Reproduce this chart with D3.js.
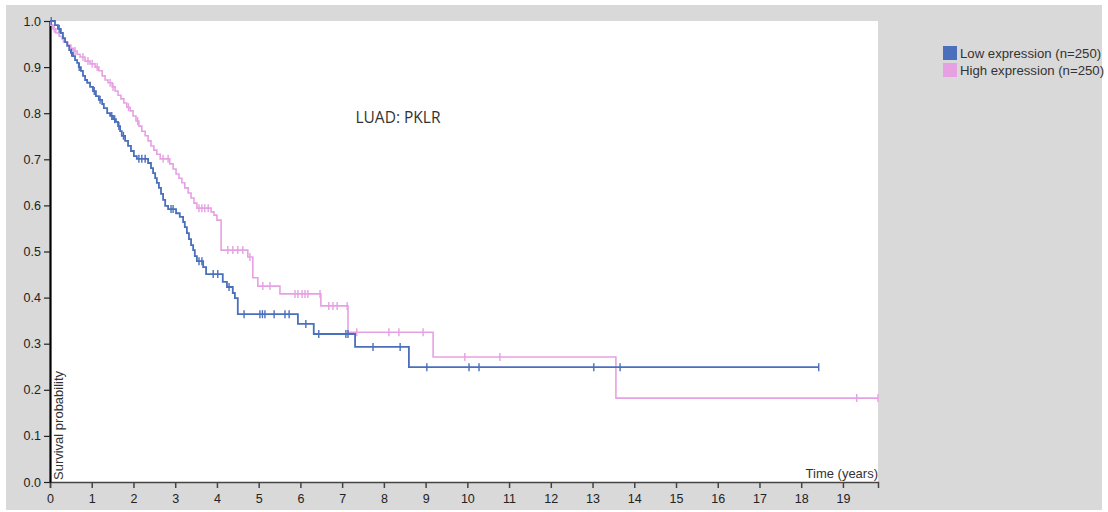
<!DOCTYPE html>
<html><head><meta charset="utf-8">
<script src="https://cdn.jsdelivr.net/npm/d3@7"></script>
<style>body{margin:0;background:#fff}svg{display:block}</style>
</head><body>
<svg id="c" width="1108" height="512"></svg>
<script>
const title = "LUAD: PKLR";
const seriesNames = ["Low expression (n=250)", "High expression (n=250)"];
const seriesColors = ["#4a6fbd", "#e6a1e3"];
const yTicks = [0,0.1,0.2,0.3,0.4,0.5,0.6,0.7,0.8,0.9,1.0];
const xTicks = [0,1,2,3,4,5,6,7,8,9,10,11,12,13,14,15,16,17,18,19];
const xMax = 19.84;

// Kaplan-Meier steps [time (years), survival after step]
const lowSteps = [[0,1.0],[0.12,0.991],[0.19,0.983],[0.26,0.974],[0.31,0.963],[0.36,0.954],[0.41,0.946],[0.46,0.937],[0.50,0.931],[0.55,0.924],[0.60,0.915],[0.65,0.909],[0.69,0.900],[0.74,0.892],[0.79,0.881],[0.84,0.872],[0.89,0.866],[0.96,0.857],[1.03,0.848],[1.10,0.837],[1.17,0.829],[1.25,0.820],[1.29,0.811],[1.37,0.800],[1.44,0.794],[1.51,0.787],[1.58,0.781],[1.63,0.772],[1.68,0.761],[1.72,0.751],[1.80,0.740],[1.87,0.729],[1.94,0.718],[2.01,0.707],[2.08,0.701],[2.35,0.692],[2.42,0.681],[2.47,0.670],[2.52,0.659],[2.56,0.649],[2.61,0.638],[2.66,0.625],[2.71,0.612],[2.76,0.599],[2.83,0.592],[3.02,0.583],[3.11,0.575],[3.19,0.564],[3.23,0.553],[3.28,0.540],[3.33,0.527],[3.38,0.514],[3.43,0.503],[3.47,0.490],[3.52,0.479],[3.67,0.466],[3.74,0.451],[4.14,0.434],[4.24,0.423],[4.38,0.410],[4.43,0.399],[4.50,0.364],[5.94,0.343],[6.32,0.321],[7.31,0.293],[8.60,0.249]];
const lowEnd = 18.42;
const lowCensor = [0.03,0.22,0.52,0.70,1.06,1.20,1.48,1.55,1.65,1.76,2.13,2.20,2.28,2.90,2.95,3.57,3.64,3.91,4.02,4.29,4.65,5.03,5.09,5.15,5.37,5.63,5.73,6.13,6.44,7.09,7.14,7.74,8.39,9.03,10.04,10.28,13.03,13.66,18.42];

const highSteps = [[0,1.0],[0.02,0.991],[0.07,0.983],[0.14,0.974],[0.22,0.967],[0.29,0.961],[0.36,0.954],[0.43,0.948],[0.50,0.941],[0.57,0.935],[0.65,0.928],[0.72,0.922],[0.84,0.913],[0.96,0.907],[1.08,0.900],[1.17,0.892],[1.25,0.881],[1.32,0.872],[1.39,0.866],[1.49,0.857],[1.56,0.848],[1.63,0.839],[1.70,0.831],[1.77,0.822],[1.84,0.813],[1.92,0.805],[1.99,0.794],[2.06,0.783],[2.13,0.772],[2.20,0.761],[2.28,0.751],[2.35,0.740],[2.42,0.729],[2.49,0.720],[2.56,0.711],[2.64,0.701],[2.87,0.690],[2.95,0.679],[3.02,0.668],[3.09,0.659],[3.16,0.649],[3.23,0.638],[3.31,0.627],[3.38,0.616],[3.45,0.605],[3.52,0.594],[3.86,0.586],[3.93,0.579],[4.00,0.568],[4.10,0.503],[4.74,0.488],[4.86,0.443],[4.98,0.425],[5.51,0.408],[6.49,0.382],[7.14,0.325],[9.18,0.271],[13.56,0.182]];
const highEnd = 19.84;
const highCensor = [0.10,0.32,0.60,0.79,0.91,1.01,1.13,1.44,1.51,1.88,2.10,2.71,2.83,3.57,3.64,3.71,3.79,4.26,4.38,4.50,4.62,4.79,5.10,5.27,5.87,5.94,6.04,6.11,6.18,6.47,6.68,6.78,6.88,7.12,7.35,8.12,8.36,8.94,9.94,10.78,19.33,19.84];

const svg = d3.select("#c");
const font = "'Liberation Sans', Arial, sans-serif";
svg.append("rect").attr("x",0).attr("y",0).attr("width",1108).attr("height",512).attr("fill","#fff");
svg.append("rect").attr("x",6).attr("y",5).attr("width",1096).attr("height",505).attr("fill","#d9d9d9");

const L=50, R=878, T=21, B=482;
const x = d3.scaleLinear().domain([0,xMax]).range([L,R]);
const y = d3.scaleLinear().domain([0,1]).range([B,T]);
svg.append("rect").attr("x",L).attr("y",T).attr("width",R-L).attr("height",B-T).attr("fill","#fff");

// X axis
const gx = svg.append("g").attr("transform",`translate(0,${B})`)
  .call(d3.axisBottom(x).tickValues(xTicks).tickFormat(d3.format("d")).tickSize(6).tickSizeOuter(6));
gx.select(".domain").attr("stroke","#444").attr("stroke-width",1.5);
gx.selectAll(".tick line").attr("stroke","#444").attr("stroke-width",1.5);
gx.selectAll(".tick text").attr("font-family",font).attr("font-size",12.5).attr("fill","#222").attr("dy","0.95em");

// Y axis
const gy = svg.append("g").attr("transform",`translate(${L},0)`)
  .call(d3.axisLeft(y).tickValues(yTicks).tickFormat(d3.format(".1f")).tickSize(6).tickSizeOuter(0));
gy.select(".domain").attr("stroke","#000").attr("stroke-width",2.2);
gy.selectAll(".tick line").attr("stroke","#222").attr("stroke-width",1.2);
gy.selectAll(".tick text").attr("font-family",font).attr("font-size",12.5).attr("fill","#222").attr("x",-9);

svg.append("text").attr("x",R).attr("y",B-4).attr("text-anchor","end")
  .attr("font-family",font).attr("font-size",13).attr("fill","#333").text("Time (years)");
svg.append("text").attr("transform",`translate(${L+13},${B-2}) rotate(-90)`).attr("text-anchor","start")
  .attr("font-family",font).attr("font-size",13).attr("fill","#333").text("Survival probability");

svg.append("text").attr("x",398).attr("y",123).attr("text-anchor","middle")
  .attr("font-family","'Open Sans', sans-serif").attr("font-size",15.5).attr("fill","#333").text(title);

const line = d3.line().x(d=>x(d[0])).y(d=>y(d[1])).curve(d3.curveStepAfter);
function survAt(steps,t){ let s=steps[0][1]; for(const p of steps){ if(p[0]<=t) s=p[1]; } return s; }

const series = [
  {steps: lowSteps, end: lowEnd, censor: lowCensor, color: seriesColors[0], w: 1.8},
  {steps: highSteps, end: highEnd, censor: highCensor, color: seriesColors[1], w: 1.6}
];
[series[1], series[0]].forEach(s=>{
  const pts = s.steps.concat([[s.end, s.steps[s.steps.length-1][1]]]);
  svg.append("path").datum(pts).attr("d",line).attr("fill","none").attr("stroke",s.color).attr("stroke-width",s.w);
  svg.append("g").selectAll("line").data(s.censor).join("line")
    .attr("x1",d=>x(d)).attr("x2",d=>x(d))
    .attr("y1",d=>y(survAt(s.steps,d))-4).attr("y2",d=>y(survAt(s.steps,d))+4)
    .attr("stroke",s.color).attr("stroke-width",1.4);
});

// Legend
const lg = svg.append("g");
seriesNames.forEach((n,i)=>{
  lg.append("rect").attr("x",943).attr("y",46+i*17).attr("width",14).attr("height",14).attr("fill",seriesColors[i]);
  lg.append("text").attr("x",960).attr("y",58+i*17).attr("font-family",font).attr("font-size",13.2).attr("fill","#333").text(n);
});
</script>
</body></html>
